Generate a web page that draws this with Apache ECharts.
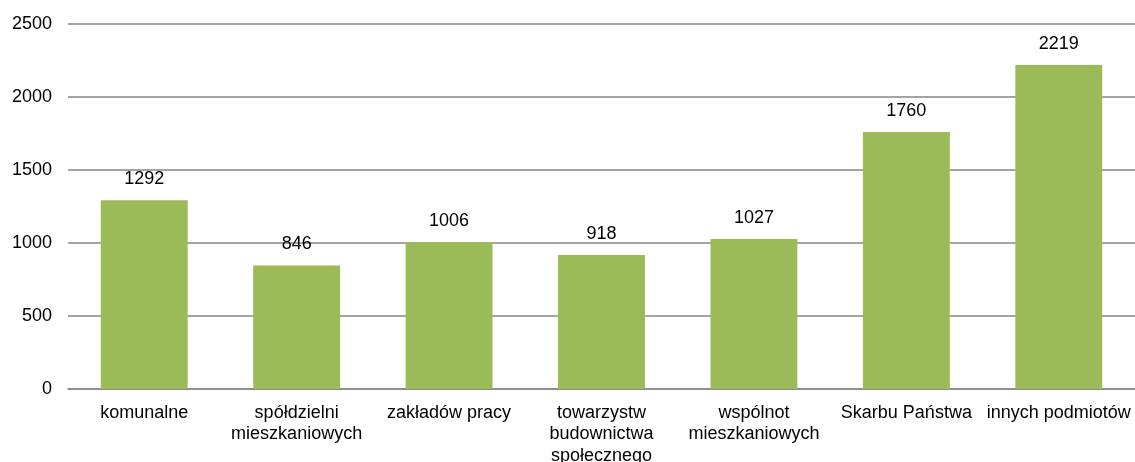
<!DOCTYPE html>
<html>
<head>
<meta charset="utf-8">
<script src="https://cdn.jsdelivr.net/npm/echarts@6/dist/echarts.min.js"></script>
<style>
  html, body { margin: 0; padding: 0; background: #fff; }
  #chart { width: 1135px; height: 462px; }
</style>
</head>
<body>
<div id="chart"></div>
<script>
const categories = [
  'komunalne',
  'spółdzielni\nmieszkaniowych',
  'zakładów pracy',
  'towarzystw\nbudownictwa\nspołecznego',
  'wspólnot\nmieszkaniowych',
  'Skarbu Państwa',
  'innych podmiotów'
]
const values = [1292, 846, 1006, 918, 1027, 1760, 2219]

const chart = echarts.init(document.getElementById('chart'))
const font = 'Liberation Sans, Arial, sans-serif'

chart.setOption({
  animation: false,
  grid: { left: 68, right: 0, top: 24, bottom: 73, outerBoundsMode: 'none' },
  xAxis: {
    type: 'category',
    data: categories,
    axisTick: { show: false },
    axisLine: { lineStyle: { color: '#868686', width: 1.5 } },
    axisLabel: {
      interval: 0,
      color: '#000',
      fontFamily: font,
      fontSize: 18,
      lineHeight: 21.5,
      margin: 13
    }
  },
  yAxis: {
    type: 'value',
    min: 0,
    max: 2500,
    interval: 500,
    axisLine: { show: false },
    axisTick: { show: false },
    splitLine: { lineStyle: { color: '#868686', width: 1.5 } },
    axisLabel: {
      color: '#000',
      fontFamily: font,
      fontSize: 18,
      margin: 16,
      formatter: v => String(v)
    }
  },
  series: [{
    type: 'bar',
    data: values,
    barWidth: '57%',
    itemStyle: { color: '#9BBB59' },
    label: {
      show: true,
      position: 'top',
      distance: 12,
      color: '#000',
      fontFamily: font,
      fontSize: 18
    }
  }]
})
</script>
</body>
</html>
